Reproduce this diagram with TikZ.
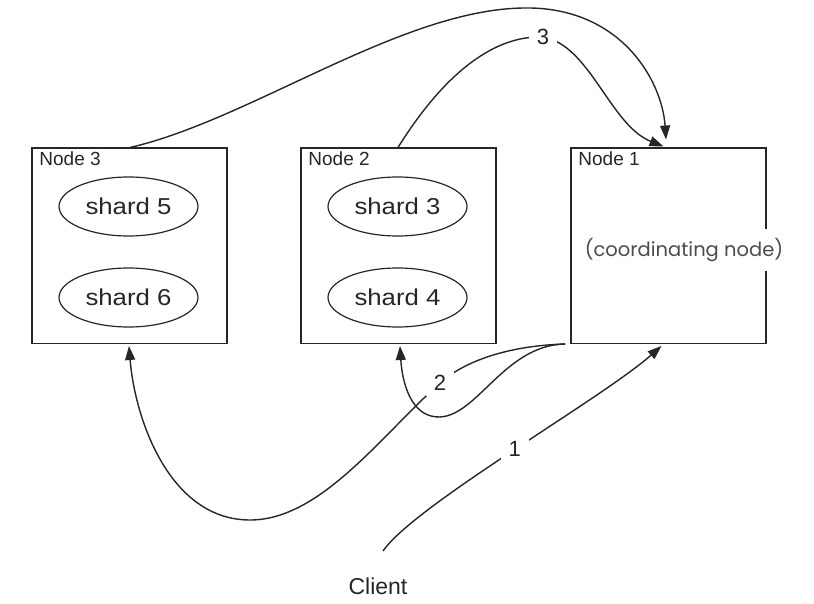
\documentclass[tikz,border=0pt]{standalone}
\usepackage{fontspec}
\setmainfont{Liberation Sans}
\newfontfamily\shardfont{Liberation Sans}[FakeStretch=1.12]
\newfontfamily\coordfont{Poppins}
\usetikzlibrary{shapes.geometric,arrows.meta}
\begin{document}
\begin{tikzpicture}[x=1pt,y=-1pt,
  box/.style={draw=black!85, line width=1.5pt, minimum width=195pt, minimum height=195pt, inner sep=0pt},
  shard/.style={draw=black!85, line width=1.2pt, ellipse, minimum width=139pt, minimum height=59pt, inner sep=0pt, text=black!85, font=\shardfont\fontsize{23}{26}\selectfont},
  title/.style={anchor=north west, inner sep=0pt, text=black!85, font=\fontsize{19}{21}\selectfont},
  num/.style={fill=white, inner xsep=8pt, inner ysep=5pt, text=black!85, font=\fontsize{22}{24}\selectfont},
  conn/.style={draw=black!85, line width=1.4pt, -{Triangle[length=14pt,width=10pt]}}
]
\useasboundingbox (0,0) rectangle (814,604);

% boxes
\node[box] (n3) at (129.5,245.75) {};
\node[box] (n2) at (398.5,245.75) {};
\node[box] (n1) at (668.5,245.75) {};

\node[title] (t3) at ([xshift=8pt,yshift=-4pt]n3.north west) {Node 3};
\node[title] (t2) at ([xshift=8pt,yshift=-4pt]n2.north west) {Node 2};
\node[title] (t1) at ([xshift=8pt,yshift=-4pt]n1.north west) {Node 1};

% shards
\node[shard] (s5) at (128.5,206.5) {shard 5};
\node[shard] (s6) at (128.5,297.5) {shard 6};
\node[shard] (s3) at (397.5,206.5) {shard 3};
\node[shard] (s4) at (397.5,297.5) {shard 4};

\node[fill=white, inner xsep=2pt, minimum height=42pt, text=black!70,
      font=\coordfont\fontsize{19.5}{22}\selectfont] (cn) at (684,250) {(coordinating node)};

% client
\node[inner sep=2pt, text=black!85, font=\fontsize{23}{26}\selectfont] (cl) at (378,586) {Client};
\coordinate (c1) at (383,551);
\coordinate (split) at ([xshift=-5pt]n1.south west);

% 1: client -> node 1
\draw[conn] (c1) .. controls (415,505) and (600,400) .. ([xshift=-7pt,yshift=-2pt]n1.south)
  node[num, pos=0.51] (l1) {1};

% 2: node 1 -> node 3 and node 2
\draw[conn] (split) .. controls (500,346) and (460,365) .. (440,383) node[num] (l2) {2}
  .. controls (380,437) and (320,520) .. (250,520)
  .. controls (170,520) and (135,420) .. ([xshift=-0.5pt,yshift=-2pt]n3.south);
\draw[conn] (split) .. controls (505,345) and (478,415) .. (440,417)
  .. controls (410,418) and (402,380) .. ([xshift=1.5pt,yshift=-2pt]n2.south);

% 3: node 3 and node 2 -> node 1
\draw[conn] ([xshift=0.5pt]n3.north) .. controls (250,120) and (400,10) .. (523,8)
  .. controls (620,6) and (662,80) .. ([xshift=-2.5pt,yshift=8pt]n1.north);
\draw[conn] ([xshift=-0.5pt]n2.north) .. controls (440,80) and (490,35) .. (543,37) node[num] (l3) {3}
  .. controls (590,45) and (610,125) .. ([xshift=-5pt,yshift=1pt]n1.north);
\end{tikzpicture}
\end{document}
